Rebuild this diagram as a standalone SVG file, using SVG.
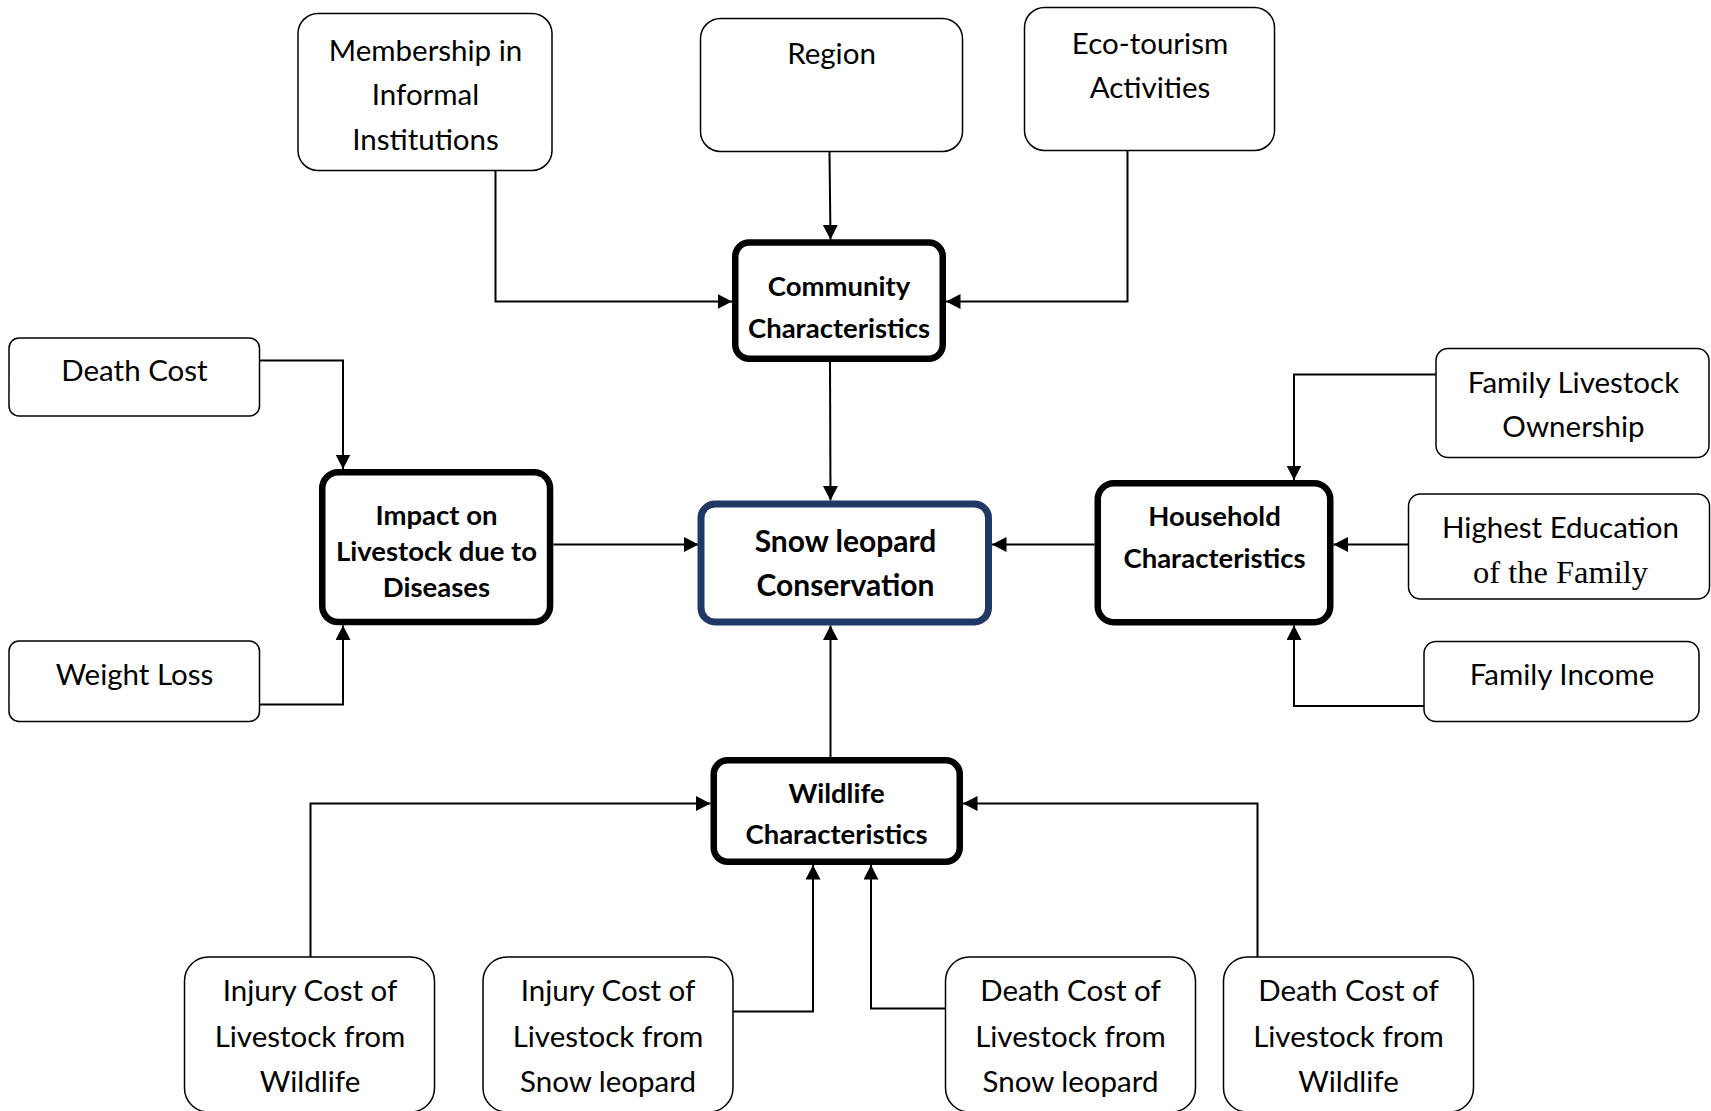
<svg xmlns="http://www.w3.org/2000/svg" width="1711" height="1111" viewBox="0 0 1711 1111">
<style>
.box{fill:#fff;stroke:#000;stroke-width:1.5}
.thick{fill:#fff;stroke:#000;stroke-width:6.5}
.main{fill:#fff;stroke:#1f3864;stroke-width:7}
.t{font-family:Lato,"Liberation Sans",sans-serif;font-size:29.5px;fill:#000;text-anchor:middle}
.b{font-family:Lato,"Liberation Sans",sans-serif;font-size:27.5px;font-weight:bold;fill:#000;text-anchor:middle}
.m{font-family:Lato,"Liberation Sans",sans-serif;font-size:30px;font-weight:bold;fill:#000;text-anchor:middle}
.s{font-family:"Liberation Serif",serif;font-size:32.5px;fill:#000;text-anchor:middle}
.c{fill:none;stroke:#000;stroke-width:2;marker-end:url(#ah)}
</style>
<defs>
<marker id="ah" markerUnits="userSpaceOnUse" markerWidth="16" markerHeight="16" refX="14.5" refY="7.5" orient="auto">
<path d="M0,0 L14.5,7.5 L0,15 z" fill="#000"/>
</marker>
</defs>
<rect width="1711" height="1111" fill="#fff"/>
<g id="connectors">
<path class="c" d="M495.5,170.5 V301.5 H732"/>
<path class="c" d="M829.5,151.5 L830.5,239.5"/>
<path class="c" d="M1127.5,150.5 V301.5 H946"/>
<path class="c" d="M830,362 L830.5,500.5"/>
<path class="c" d="M259.5,360.5 H343 V469"/>
<path class="c" d="M259.5,704.5 H343 V625.5"/>
<path class="c" d="M553.5,544.5 H698.5"/>
<path class="c" d="M1094.5,544.5 H992"/>
<path class="c" d="M1436,374.5 H1294 V480"/>
<path class="c" d="M1408.5,544.5 H1333.5"/>
<path class="c" d="M1424,706 H1294 V625.5"/>
<path class="c" d="M830.5,757 V625.5"/>
<path class="c" d="M310.5,957 V803.5 H710.5"/>
<path class="c" d="M733,1011.5 H813 V865"/>
<path class="c" d="M945.5,1008.5 H871 V865"/>
<path class="c" d="M1257.5,957 V803.5 H963"/>
</g>
<g id="membership"><rect class="box" x="298" y="13.5" width="254" height="157" rx="20"/>
<text class="t" x="425.5" y="60.5">Membership in</text><text class="t" x="425.5" y="105">Informal</text><text class="t" x="425.5" y="149.5">Institutions</text></g>
<g id="region"><rect class="box" x="700.5" y="18.5" width="262" height="133" rx="20"/>
<text class="t" x="831.5" y="64">Region</text></g>
<g id="ecotourism"><rect class="box" x="1024.5" y="7.5" width="250" height="143" rx="20"/>
<text class="t" x="1150" y="53.5">Eco-tourism</text><text class="t" x="1150" y="98">Activities</text></g>
<g id="community"><rect class="thick" x="735.25" y="242.5" width="207.5" height="116.25" rx="14"/>
<text class="b" x="839" y="296">Community</text><text class="b" x="839" y="337.5">Characteristics</text></g>
<g id="snow-leopard"><rect class="main" x="701" y="504" width="287.5" height="118" rx="14"/>
<text class="m" x="845.5" y="551.5">Snow leopard</text><text class="m" x="845.5" y="596">Conservation</text></g>
<g id="household"><rect class="thick" x="1097.75" y="483.25" width="232.5" height="139" rx="16"/>
<text class="b" x="1214.5" y="526">Household</text><text class="b" x="1214.5" y="568">Characteristics</text></g>
<g id="impact"><rect class="thick" x="322.25" y="472.25" width="227.8" height="149.8" rx="16"/>
<text class="b" x="436.5" y="525">Impact on</text><text class="b" x="436.5" y="561">Livestock due to</text><text class="b" x="436.5" y="597">Diseases</text></g>
<g id="wildlife"><rect class="thick" x="713.75" y="760.25" width="246" height="101.5" rx="14"/>
<text class="b" x="836.5" y="802.5">Wildlife</text><text class="b" x="836.5" y="844">Characteristics</text></g>
<g id="death-cost"><rect class="box" x="9" y="338" width="250.5" height="78" rx="10"/>
<text class="t" x="134.5" y="381">Death Cost</text></g>
<g id="weight-loss"><rect class="box" x="9" y="641" width="250.5" height="80.5" rx="10"/>
<text class="t" x="134.5" y="684.5">Weight Loss</text></g>
<g id="family-livestock"><rect class="box" x="1436" y="348.5" width="273" height="109" rx="12"/>
<text class="t" x="1573.5" y="392.5">Family Livestock</text><text class="t" x="1573.5" y="437">Ownership</text></g>
<g id="highest-education"><rect class="box" x="1408.5" y="494" width="301" height="105" rx="12"/>
<text class="t" x="1560.5" y="537.5">Highest Education</text><text class="s" x="1560.5" y="582.5">of the Family</text></g>
<g id="family-income"><rect class="box" x="1424" y="641.5" width="275" height="80" rx="12"/>
<text class="t" x="1562" y="684.5">Family Income</text></g>
<g id="injury-wildlife"><rect class="box" x="184.5" y="957" width="250" height="155" rx="24"/>
<text class="t" x="310" y="1001">Injury Cost of</text><text class="t" x="310" y="1047">Livestock from</text><text class="t" x="310" y="1091.5">Wildlife</text></g>
<g id="injury-snow"><rect class="box" x="483" y="957" width="250" height="155" rx="24"/>
<text class="t" x="608" y="1001">Injury Cost of</text><text class="t" x="608" y="1047">Livestock from</text><text class="t" x="608" y="1091.5">Snow leopard</text></g>
<g id="death-snow"><rect class="box" x="945.5" y="957" width="250" height="155" rx="24"/>
<text class="t" x="1070.5" y="1001">Death Cost of</text><text class="t" x="1070.5" y="1047">Livestock from</text><text class="t" x="1070.5" y="1091.5">Snow leopard</text></g>
<g id="death-wildlife"><rect class="box" x="1223.5" y="957" width="250" height="155" rx="24"/>
<text class="t" x="1348.5" y="1001">Death Cost of</text><text class="t" x="1348.5" y="1047">Livestock from</text><text class="t" x="1348.5" y="1091.5">Wildlife</text></g>
</svg>
